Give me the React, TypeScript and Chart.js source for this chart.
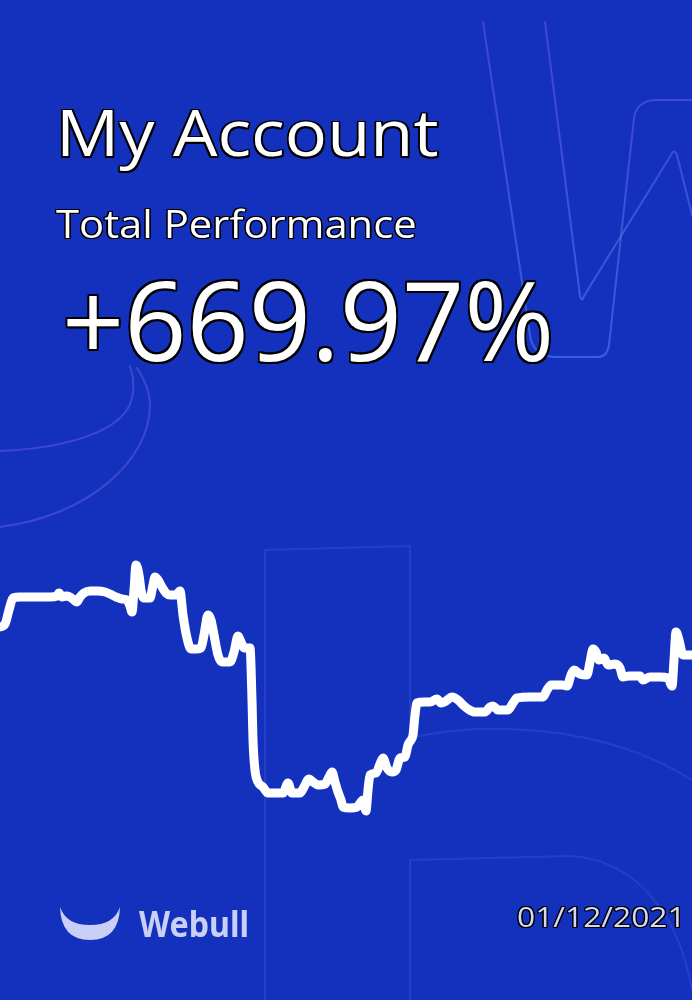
import React, { useEffect, useRef } from "react";
import { Chart, registerables } from "chart.js";

Chart.register(...registerables);

// Trading-day position of each sample (days since start)
const days: number[] = [
  0, 2.5, 4.5, 6.5, 10, 15, 20, 25, 28.5, 29.5,
  31, 33, 35, 37, 38.5, 40, 42, 45, 49, 52.5,
  55, 58, 61, 63.5, 65, 66, 67, 68, 69.5, 70.5,
  72, 75, 76.5, 77.5, 79, 81, 83, 85, 88, 90,
  91.5, 93.5, 95.5, 98.5, 100.5, 102, 104, 105.5, 107, 109,
  111, 115, 117, 119, 120.5, 122, 125, 126, 126.5, 127.5,
  129, 131.5, 134, 138, 141.5, 144, 146, 150, 152, 154.5,
  156.5, 159, 162.5, 164.5, 166, 167.5, 169, 170.5, 171.5, 175,
  178.5, 181.5, 183, 184, 185, 188, 190, 191.5, 193.5, 196,
  198, 200, 202.5, 204, 205.5, 206.5, 207.5, 208.5, 212, 215,
  218.5, 220.5, 223, 226, 229, 231.5, 234, 237.5, 242.5, 245,
  246.5, 249, 254, 256.5, 258.5, 265, 271.5, 273.5, 275.5, 281,
  283.5, 285.5, 287, 290, 293.5, 295, 296.5, 298, 299.5, 302,
  304, 307.5, 310, 311.5, 314.5, 320, 321.5, 325, 330, 334,
  336, 337, 338, 339.5, 341.5, 346,
];

// Total performance (%) at each sample
const returns: number[] = [
  782, 794, 850, 898, 902, 902, 902, 902, 906, 918,
  902, 906, 902, 890, 882, 902, 918, 926, 926, 922,
  914, 902, 894, 890, 866, 842, 930, 1030, 990, 930,
  898, 898, 950, 982, 970, 942, 918, 910, 910, 926,
  830, 738, 694, 694, 698, 750, 830, 810, 750, 670,
  642, 642, 682, 746, 722, 698, 698, 490, 330, 210,
  162, 142, 118, 118, 118, 158, 118, 118, 142, 174,
  162, 150, 154, 182, 202, 162, 122, 90, 62, 58,
  62, 90, 46, 130, 190, 198, 234, 258, 218, 202,
  210, 258, 262, 310, 330, 350, 430, 478, 482, 482,
  494, 478, 486, 502, 490, 470, 454, 442, 442, 462,
  466, 450, 450, 478, 498, 502, 502, 530, 550, 550,
  546, 590, 610, 594, 590, 642, 694, 682, 650, 658,
  630, 634, 618, 582, 586, 586, 570, 582, 582, 578,
  546, 650, 762, 730, 670, 669.97,
];

const TITLE = "My Account";
const SUBTITLE = "Total Performance";
const TOTAL = "+669.97%";
const BRAND = "Webull";
const DATE_LABEL = "01/12/2021";

const BG = "#1431BE";

const decorPlugin = {
  id: "decor",
  beforeDraw(chart: any) {
    const ctx = chart.ctx as CanvasRenderingContext2D;
    ctx.save();
    ctx.fillStyle = BG;
    ctx.fillRect(0, 0, chart.width, chart.height);
    ctx.lineWidth = 2;
    ctx.lineJoin = "round";
    ctx.lineCap = "round";

    // Big faint "W" outline top right
    const g = ctx.createLinearGradient(0, 0, 0, 360);
    g.addColorStop(0, "rgba(120,90,220,0.45)");
    g.addColorStop(1, "rgba(70,120,240,0.65)");
    ctx.strokeStyle = g;
    ctx.beginPath();
    ctx.moveTo(483, 22);
    ctx.lineTo(530, 335);
    ctx.quadraticCurveTo(533, 357, 556, 357);
    ctx.lineTo(598, 357);
    ctx.quadraticCurveTo(607, 357, 609, 345);
    ctx.lineTo(634, 118);
    ctx.quadraticCurveTo(637, 100, 657, 100);
    ctx.lineTo(692, 100);
    ctx.stroke();

    ctx.beginPath();
    ctx.moveTo(545, 22);
    ctx.lineTo(580, 296);
    ctx.quadraticCurveTo(582, 303, 584, 296);
    ctx.lineTo(671, 155);
    ctx.quadraticCurveTo(674, 148, 677, 155);
    ctx.lineTo(692, 215);
    ctx.stroke();

    // Left arcs
    ctx.strokeStyle = "rgba(110,100,225,0.45)";
    ctx.beginPath();
    ctx.moveTo(0, 451);
    ctx.bezierCurveTo(70, 448, 125, 430, 132, 398);
    ctx.bezierCurveTo(135, 385, 133, 375, 130, 366);
    ctx.stroke();
    ctx.beginPath();
    ctx.moveTo(0, 527);
    ctx.bezierCurveTo(90, 515, 150, 460, 150, 405);
    ctx.bezierCurveTo(150, 392, 145, 380, 137, 368);
    ctx.stroke();

    // Lower faint shapes
    ctx.strokeStyle = "rgba(150,160,255,0.13)";
    ctx.beginPath();
    ctx.moveTo(265, 1000);
    ctx.lineTo(265, 550);
    ctx.lineTo(410, 546);
    ctx.lineTo(410, 738);
    ctx.bezierCurveTo(480, 722, 600, 722, 692, 780);
    ctx.stroke();
    ctx.beginPath();
    ctx.moveTo(410, 1000);
    ctx.lineTo(410, 860);
    ctx.lineTo(570, 856);
    ctx.bezierCurveTo(640, 860, 680, 920, 692, 990);
    ctx.stroke();
    ctx.restore();
  },
};

const outline = (w: number) =>
  [
    `${-w}px ${-w}px 0 #000`,
    `${w}px ${-w}px 0 #000`,
    `${-w}px ${w}px 0 #000`,
    `${w}px ${w}px 0 #000`,
    `0 ${w}px 0 #000`,
    `0 ${-w}px 0 #000`,
    `${w}px 0 0 #000`,
    `${-w}px 0 0 #000`,
  ].join(", ");

export default function App() {
  const canvasRef = useRef<HTMLCanvasElement | null>(null);

  useEffect(() => {
    document.body.style.margin = "0";
    document.body.style.overflow = "hidden";
    const canvas = canvasRef.current;
    if (!canvas) return;
    const chart = new Chart(canvas, {
      type: "line",
      data: {
        datasets: [
          {
            data: days.map((d, i) => ({ x: d, y: returns[i] })),
            borderColor: "#ffffff",
            borderWidth: 9,
            borderCapStyle: "round",
            borderJoinStyle: "round",
            tension: 0.4,
            cubicInterpolationMode: "monotone",
            pointRadius: 0,
            fill: false,
          },
        ],
      },
      options: {
        animation: false,
        responsive: false,
        devicePixelRatio: 1,
        layout: { padding: { top: 550, bottom: 170, left: 0, right: 0 } },
        scales: {
          x: { type: "linear", min: 0, max: 346, display: false },
          y: { min: -30, max: 1090, display: false },
        },
        plugins: {
          legend: { display: false },
          tooltip: { enabled: false },
          title: { display: false },
        },
      },
      plugins: [decorPlugin],
    });
    return () => chart.destroy();
  }, []);

  const base: React.CSSProperties = {
    position: "absolute",
    whiteSpace: "nowrap",
    fontFamily: "'Open Sans', 'Noto Sans', sans-serif",
    transformOrigin: "left top",
  };

  return (
    <div
      style={{
        position: "absolute",
        left: 0,
        top: 0,
        width: 692,
        height: 1000,
        overflow: "hidden",
        background: BG,
      }}
    >
      <canvas
        ref={canvasRef}
        width={692}
        height={1000}
        style={{ position: "absolute", left: 0, top: 0, width: 692, height: 1000 }}
      />
      <div
        style={{
          ...base,
          left: 56,
          top: 100,
          fontSize: 64,
          lineHeight: "64px",
          color: "#fff",
          textShadow: outline(1.5),
          transform: "scaleX(1.1)",
        }}
      >
        {TITLE}
      </div>
      <div
        style={{
          ...base,
          left: 56,
          top: 204,
          fontSize: 38,
          lineHeight: "38px",
          color: "#fff",
          textShadow: outline(1.2),
          transform: "scaleX(1.1)",
        }}
      >
        {SUBTITLE}
      </div>
      <div
        style={{
          ...base,
          left: 62,
          top: 263,
          fontSize: 110,
          lineHeight: "110px",
          color: "#fff",
          textShadow: outline(1.8),
          transform: "scaleX(0.99)",
        }}
      >
        {TOTAL}
      </div>
      <svg
        width={64}
        height={36}
        viewBox="0 0 64 36"
        style={{ position: "absolute", left: 58, top: 906 }}
      >
        <path
          d="M2 1 Q3 34 32 34 Q61 34 62 1 Q56 19 32 19 Q8 19 2 1 Z"
          fill="#c9cff5"
        />
      </svg>
      <div
        style={{
          ...base,
          left: 139,
          top: 906,
          fontFamily: "'Noto Sans', sans-serif",
          fontWeight: 700,
          fontSize: 35,
          lineHeight: "35px",
          color: "#c9cff5",
          transform: "scaleX(0.92)",
        }}
      >
        {BRAND}
      </div>
      <div
        style={{
          ...base,
          left: 517,
          top: 902,
          fontSize: 28,
          lineHeight: "28px",
          color: "#d4d8f2",
          textShadow: outline(1),
          transform: "scaleX(1.135)",
        }}
      >
        {DATE_LABEL}
      </div>
    </div>
  );
}
